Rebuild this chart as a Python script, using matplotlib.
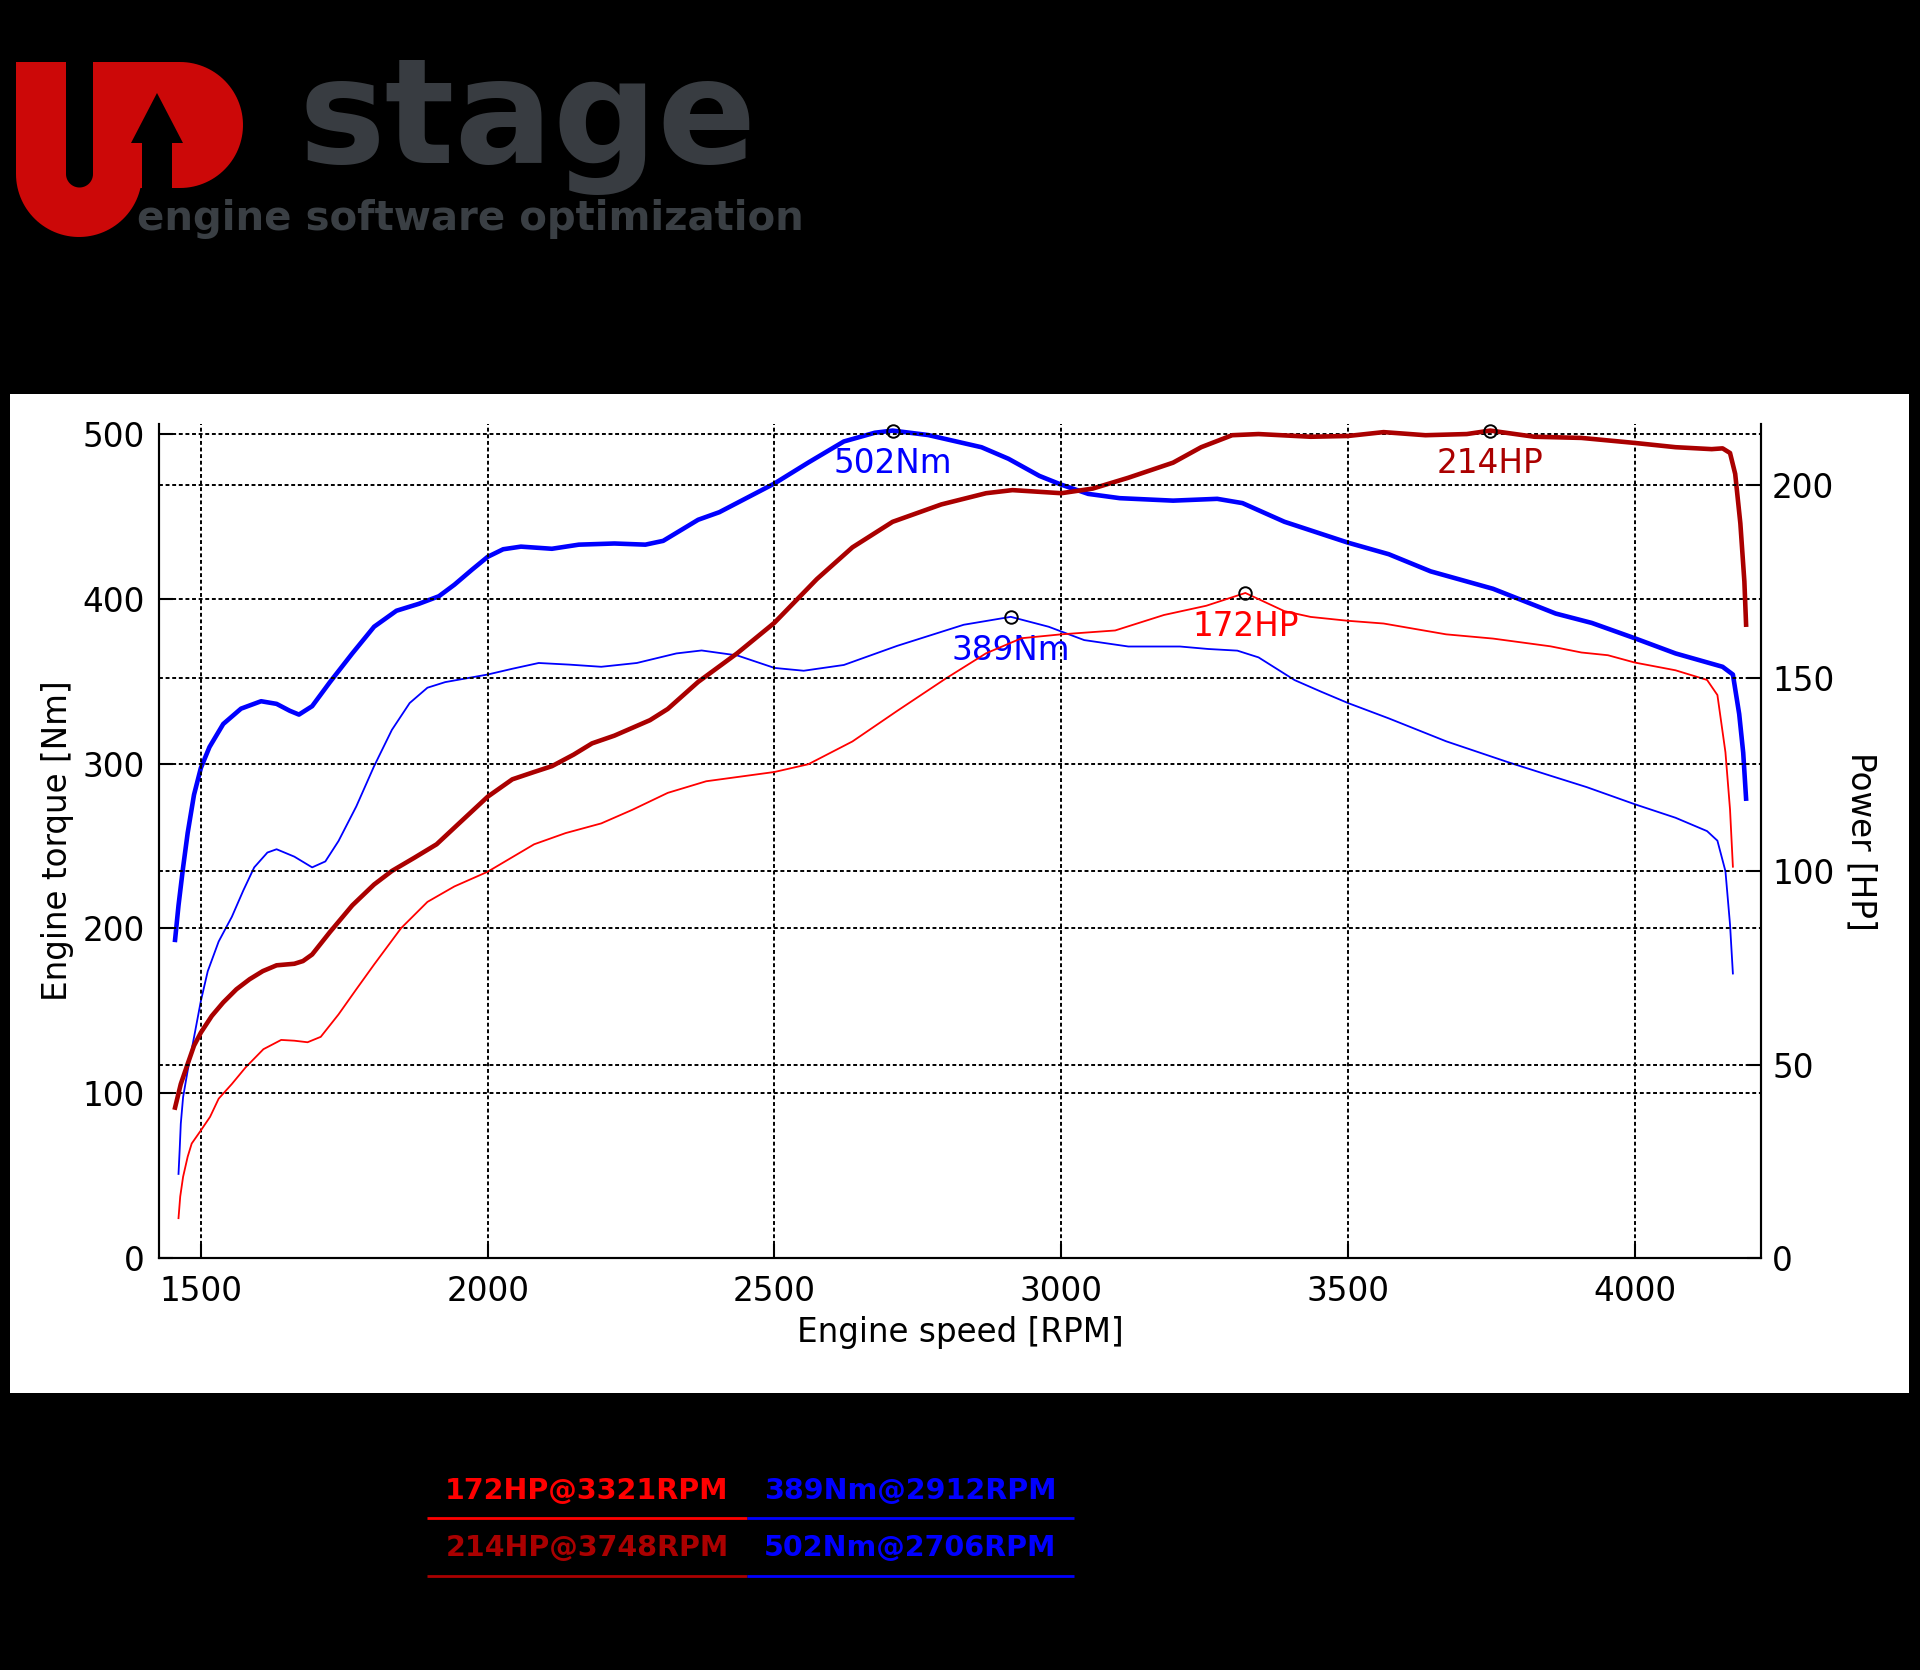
import matplotlib
matplotlib.use("Agg")
import matplotlib.pyplot as plt
from matplotlib.patches import Polygon, Rectangle
import numpy as np

# Tuned torque [Nm] (thick blue)
rpm_tq_tuned = [1455, 1461, 1469, 1477, 1488, 1500, 1515, 1539, 1570, 1605, 1632, 1655, 1671, 1694,
                1725, 1764, 1802, 1841, 1880, 1915, 1942, 1973, 2000, 2027, 2058, 2112, 2159, 2221,
                2275, 2306, 2367, 2404, 2500, 2559, 2621, 2675, 2706, 2768, 2861, 2908, 2962, 3000,
                3047, 3102, 3195, 3272, 3316, 3389, 3500, 3571, 3644, 3753, 3862, 3925, 4000, 4071,
                4153, 4171, 4182, 4189, 4194]
tq_tuned = [193, 213.9, 237, 257.9, 281, 297.3, 310, 324, 333.3, 337.8, 336.2, 332, 329.7, 334.8,
            349.4, 366.8, 383, 392.7, 396.9, 401.5, 408.5, 417.7, 425.4, 430, 431.6, 430.3, 432.8, 433.5,
            432.8, 435.1, 447.9, 452.5, 469.9, 482.6, 495.4, 500.7, 502, 499.3, 491.9, 484.9, 474.5, 469.2,
            463.6, 461, 459.5, 460.6, 458, 446.7, 434, 427, 416.6, 406, 391, 385.3, 376, 366.8,
            358.7, 354, 330, 306.5, 278.7]

# Stock torque [Nm] (thin blue)
rpm_tq_stock = [1461, 1463, 1465, 1469, 1477, 1488, 1500, 1512, 1531, 1554, 1574, 1593, 1616, 1632,
                1663, 1694, 1717, 1740, 1771, 1802, 1833, 1864, 1895, 1926, 2000, 2043, 2089, 2143,
                2198, 2260, 2329, 2373, 2435, 2500, 2551, 2621, 2714, 2830, 2912, 2978, 3040, 3117,
                3207, 3256, 3307, 3344, 3407, 3453, 3500, 3571, 3671, 3780, 3853, 3916, 4000, 4071,
                4126, 4144, 4158, 4166, 4171]
tq_stock = [51, 65.4, 81.5, 97.6, 113.7, 133.8, 156, 174, 192, 207, 223, 237, 246, 248,
            243.5, 237, 240.6, 253, 274, 298.4, 320.4, 336.7, 346, 349.4, 354, 357.5, 361, 360,
            358.7, 361, 366.8, 368.6, 365.6, 358, 356.3, 359.8, 371.4, 384.2, 389, 383, 374.9, 371,
            371, 369.5, 368.5, 364.4, 350.6, 343.6, 336.7, 327.4, 313.5, 300.7, 292.6, 285.7, 275.3, 267.1,
            259, 253.2, 234.7, 202.3, 172.6]

# Tuned power [HP] (thick dark red)
rpm_hp_tuned = [1455, 1465, 1477, 1488, 1500, 1519, 1539, 1562, 1585, 1608, 1632, 1663, 1678, 1694,
                1725, 1764, 1802, 1833, 1872, 1911, 1950, 2000, 2043, 2081, 2112, 2150, 2182, 2221,
                2252, 2283, 2314, 2367, 2435, 2500, 2574, 2636, 2706, 2791, 2869, 2915, 3000, 3055,
                3117, 3195, 3244, 3298, 3344, 3435, 3500, 3562, 3635, 3707, 3748, 3825, 3907, 4000,
                4071, 4134, 4153, 4166, 4175, 4184, 4191, 4194]
hp_tuned = [38.9, 45, 50.2, 54.9, 58.3, 62.6, 66.1, 69.5, 72.1, 74.2, 75.7, 76.1, 76.8, 78.5,
            84.3, 91.2, 96.6, 100.1, 103.5, 107, 112.4, 119.3, 123.8, 125.7, 127.2, 130.2, 133.1, 135.1,
            137.1, 139.1, 142, 149, 156.4, 164.3, 175.6, 183.8, 190.4, 194.9, 197.8, 198.6, 197.8, 199,
            201.8, 205.7, 209.7, 212.8, 213.1, 212.4, 212.6, 213.6, 212.8, 213.1, 214, 212.4, 212.1, 210.8,
            209.7, 209.2, 209.4, 208.2, 202.8, 190, 175, 163.8]

# Stock power [HP] (thin red)
rpm_hp_stock = [1461, 1464, 1469, 1477, 1484, 1500, 1516, 1531, 1554, 1578, 1609, 1640, 1663, 1686,
                1709, 1740, 1771, 1802, 1849, 1895, 1942, 2000, 2081, 2136, 2198, 2252, 2314, 2381,
                2500, 2559, 2636, 2714, 2799, 2869, 2931, 3000, 3094, 3179, 3253, 3321, 3389, 3435,
                3500, 3562, 3671, 3753, 3853, 3907, 3953, 4000, 4071, 4126, 4144, 4158, 4166, 4171]
hp_stock = [10.3, 15.9, 21, 26.2, 29.6, 33, 36.5, 41.2, 45, 49.3, 54, 56.4, 56.2, 55.8,
            57.2, 63, 69.5, 75.9, 85.3, 92.1, 96.1, 99.9, 107, 109.9, 112.4, 115.9, 120.3, 123.3,
            125.7, 127.7, 133.6, 141.5, 149.9, 156.4, 160.3, 161.3, 162.3, 166.3, 168.7, 172, 167.3, 165.8,
            164.8, 164.1, 161.3, 160.2, 158.2, 156.6, 155.9, 154, 152, 149.5, 145.6, 130.8, 116, 101.2]

# Peaks
peak_tq_rpm = [2706, 2912]
peak_tq = [502, 389]
peak_hp_rpm = [3748, 3321]
peak_hp = [214, 172]

C_BLUE = "#0000ff"
C_RED = "#ff0000"
C_DRED = "#aa0000"

W, H = 1920, 1670
fig = plt.figure(figsize=(W / 100, H / 100), dpi=100, facecolor="black")

# background layer in pixel coordinates (y down)
bg = fig.add_axes([0, 0, 1, 1], zorder=0)
bg.set_xlim(0, W)
bg.set_ylim(H, 0)
bg.axis("off")
bg.add_patch(Rectangle((10, 394), 1899, 999, facecolor="white", edgecolor="none"))

# Logo: red U with D-shape and arrow
logo_red = "#cc0808"
t = np.linspace(np.pi, 0, 60)
u_pts = [(16, 62), (16, 174)]
u_pts += list(zip(79 + 63 * np.cos(t), 174 + 63 * np.sin(t)))
u_pts += [(142, 174), (142, 62), (93, 62), (93, 174)]
t2 = np.linspace(0, np.pi, 30)
u_pts += list(zip(79.5 + 13.5 * np.cos(t2), 174 + 13.5 * np.sin(t2)))
u_pts += [(66, 174), (66, 62)]
bg.add_patch(Polygon(u_pts, closed=True, facecolor=logo_red, edgecolor="none"))
t3 = np.linspace(-np.pi / 2, np.pi / 2, 60)
d_pts = [(93, 62)] + list(zip(180 + 63 * np.cos(t3), 125 + 63 * np.sin(t3))) + [(93, 188)]
bg.add_patch(Polygon(d_pts, closed=True, facecolor=logo_red, edgecolor="none"))
bg.add_patch(Polygon([(131, 143), (183, 143), (157, 93)], closed=True, facecolor="black", edgecolor="none"))
bg.add_patch(Rectangle((142, 142), 30, 48, facecolor="black", edgecolor="none"))
bg.text(528, 163, "stage", fontsize=105, fontweight="bold", color="#383c41",
        ha="center", va="baseline", family="DejaVu Sans")
bg.text(137, 230, "engine software optimization", fontsize=29, fontweight="bold",
        color="#3a3f44", ha="left", va="baseline", family="DejaVu Sans")

# Summary table at the bottom
rows = [
    (f"{peak_hp[1]}HP@{peak_hp_rpm[1]}RPM", C_RED, f"{peak_tq[1]}Nm@{peak_tq_rpm[1]}RPM", C_BLUE, 1491, 1518),
    (f"{peak_hp[0]}HP@{peak_hp_rpm[0]}RPM", C_DRED, f"{peak_tq[0]}Nm@{peak_tq_rpm[0]}RPM", C_BLUE, 1548, 1576),
]
for left_txt, left_c, right_txt, right_c, ty, ly in rows:
    bg.text(587, ty, left_txt, color=left_c, fontsize=20.5, fontweight="bold", ha="center", va="center")
    bg.text(910, ty, right_txt, color=right_c, fontsize=20.5, fontweight="bold", ha="center", va="center")
    bg.plot([427, 747], [ly, ly], color=left_c, lw=2, solid_capstyle="butt")
    bg.plot([747, 1074], [ly, ly], color=right_c, lw=2, solid_capstyle="butt")

# Main chart
ax = fig.add_axes([159 / W, 1 - 1258 / H, 1602 / W, 834 / H], zorder=1)
ax.patch.set_alpha(0)
ax2 = ax.twinx()

ax.plot(rpm_tq_stock, tq_stock, color=C_BLUE, lw=1.3, solid_joinstyle="round")
ax.plot(rpm_tq_tuned, tq_tuned, color=C_BLUE, lw=3.3, solid_joinstyle="round")
ax2.plot(rpm_hp_stock, hp_stock, color=C_RED, lw=1.3, solid_joinstyle="round")
ax2.plot(rpm_hp_tuned, hp_tuned, color=C_DRED, lw=3.3, solid_joinstyle="round")

ax.plot(peak_tq_rpm, peak_tq, "o", mfc="none", mec="black", ms=9, mew=1.4, zorder=5)
ax2.plot(peak_hp_rpm, peak_hp, "o", mfc="none", mec="black", ms=9, mew=1.4, zorder=5)
for x, y in zip(peak_tq_rpm, peak_tq):
    ax.annotate(f"{y}Nm", (x, y), xytext=(0, -12), textcoords="offset points",
                ha="center", va="top", color=C_BLUE, fontsize=23.5)
for x, y, c in zip(peak_hp_rpm, peak_hp, [C_DRED, C_RED]):
    ax2.annotate(f"{y}HP", (x, y), xytext=(0, -12), textcoords="offset points",
                 ha="center", va="top", color=c, fontsize=23.5)

ax.set_xlim(1427, 4220)
ax.set_ylim(0, 506)
ax2.set_ylim(0, 215.7)
ax.set_xticks([1500, 2000, 2500, 3000, 3500, 4000])
ax.set_yticks([0, 100, 200, 300, 400, 500])
ax2.set_yticks([0, 50, 100, 150, 200])

grid_kw = dict(color="black", linestyle=(0, (2, 1.4)), linewidth=1.4)
ax.set_axisbelow(False)
ax2.set_axisbelow(False)
ax.grid(True, axis="both", **grid_kw)
ax2.grid(True, axis="y", **grid_kw)

for a in (ax, ax2):
    a.spines["top"].set_visible(False)
    for s in ("left", "right", "bottom"):
        a.spines[s].set_linewidth(1.5)
ax.tick_params(axis="both", direction="in", length=10, width=1.5, labelsize=23.5,
               top=False, right=False)
ax.tick_params(axis="x", pad=12)
ax.tick_params(axis="y", pad=10)
ax2.tick_params(axis="y", direction="in", length=10, width=1.5, labelsize=23.5, pad=8)

ax.set_xlabel("Engine speed [RPM]", fontsize=23.5)
ax.xaxis.set_label_coords(0.5, -0.0695)
ax.set_ylabel("Engine torque [Nm]", fontsize=23.5)
ax.yaxis.set_label_coords(-0.0531, 0.5)
ax2.set_ylabel("Power [HP]", fontsize=23.5, rotation=270, va="bottom")
ax2.yaxis.set_label_coords(1.0524, 0.5)

fig.savefig("out.png", dpi=100, facecolor="black")
